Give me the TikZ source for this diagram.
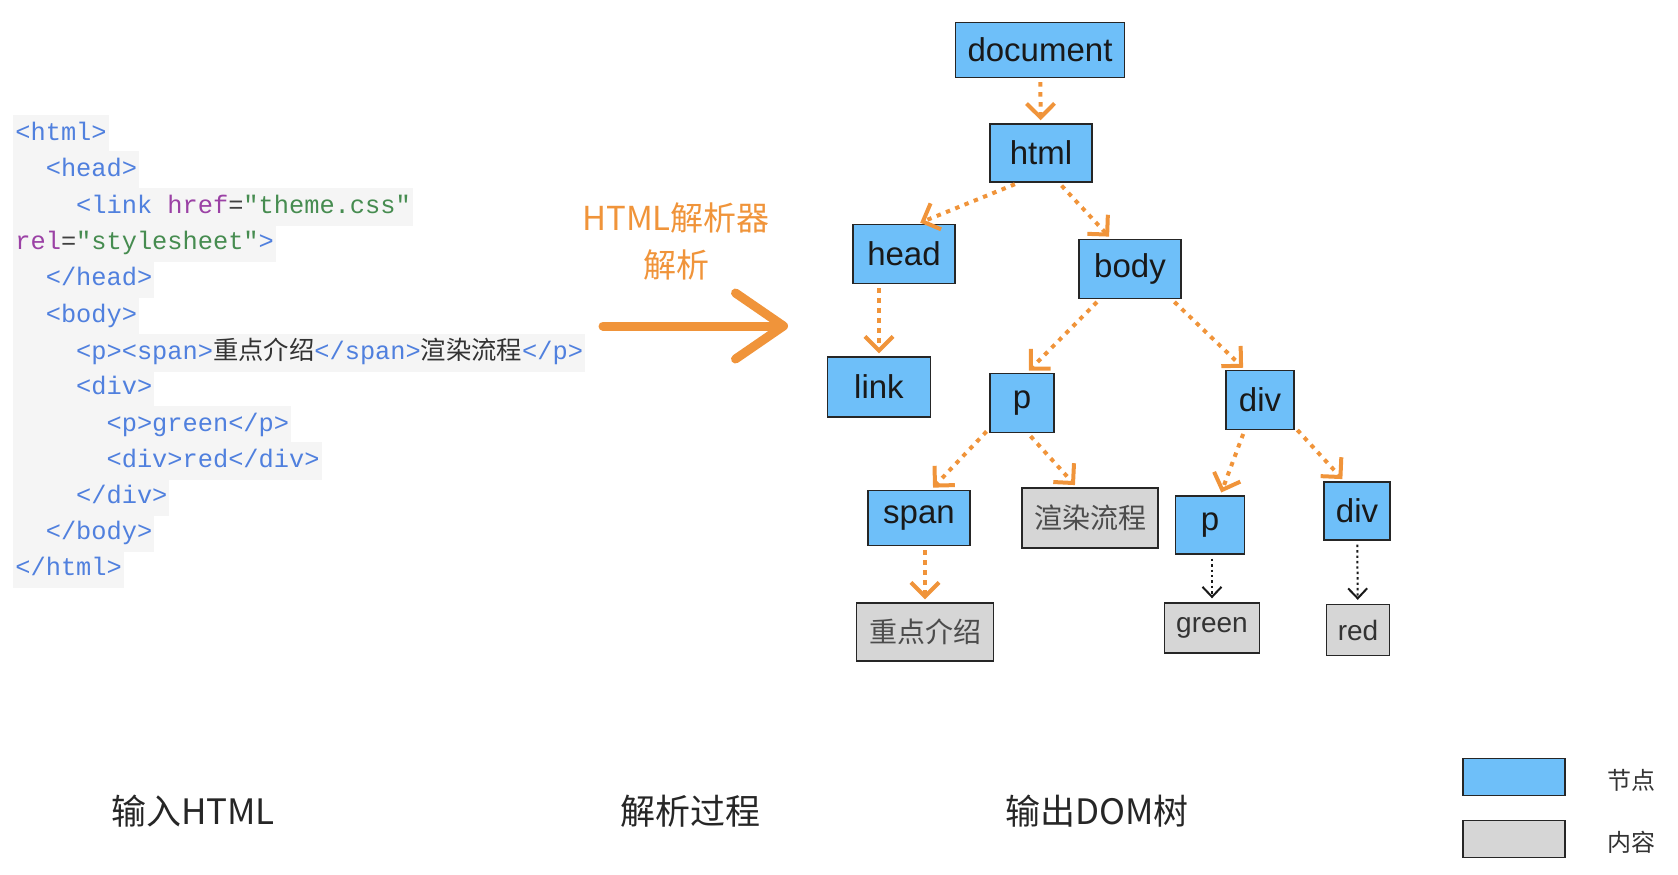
\documentclass[tikz,border=0pt]{standalone}
\usepackage{fontspec}
\newfontfamily\cjk{Noto Sans CJK SC}
\newfontfamily\lab{Liberation Sans}
\newfontfamily\code{Liberation Mono}
\usetikzlibrary{arrows.meta}

\definecolor{nodeblue}{RGB}{110,191,249}
\definecolor{txtgray}{RGB}{214,214,214}
\definecolor{edgeorange}{RGB}{240,148,58}
\definecolor{tagblue}{RGB}{80,128,222}
\definecolor{attrpurple}{RGB}{155,65,165}
\definecolor{valgreen}{RGB}{70,140,80}
\definecolor{codebg}{RGB}{245,245,245}

\newcommand\tg[1]{\textcolor{tagblue}{#1}}
\newcommand\at[1]{\textcolor{attrpurple}{#1}}
\newcommand\vl[1]{\textcolor{valgreen}{#1}}
\newcommand\zh[1]{\textcolor{black!80}{\cjk #1}}

\begin{document}
\begin{tikzpicture}[x=0.5pt, y=-0.5pt,
    elem/.style={draw=black!85, line width=0.7pt, fill=nodeblue, minimum height=29.5pt, inner sep=0pt, font=\lab\fontsize{16.5}{18}\selectfont, text=black!90},
    content/.style={elem, fill=txtgray, font=\lab\fontsize{14}{16}\selectfont, text=black!80},
    zhbox/.style={font=\cjk\fontsize{14}{16}\selectfont, text=black!70},
    codeline/.style={fill=codebg, anchor=west, inner xsep=1pt, inner ysep=0pt, minimum height=18.9pt, text height=8.5pt, text depth=2.5pt, font=\code\fontsize{12.67}{14}\selectfont, text=black!75},
    edge/.style={edgeorange, line width=2pt, dash pattern=on 2.2pt off 2.8pt, shorten <=2pt, shorten >=1.5pt, -{Straight Barb[length=7pt, width=14pt]}},
    leaf/.style={black!90, line width=1pt, dash pattern=on 1.2pt off 1.5pt, shorten <=2pt, shorten >=2pt, -{Straight Barb[length=5pt, width=9.5pt]}},
    chalk/.style={edgeorange, line width=4.5pt, line cap=round, -{Straight Barb[length=24pt, width=33pt, round]}},
    caption/.style={font=\cjk\fontsize{17.5}{20}\selectfont, text=black!85},
    legendlbl/.style={font=\cjk\fontsize{12}{14}\selectfont, text=black!80}
]
    \useasboundingbox (0,0) rectangle (1678,874);

    % html source
    \node[codeline] (l0) at (13,134) {\tg{<html>}};
    \node[codeline] (l1) at (13,170) {\hspace*{1.2em}\tg{<head>}};
    \node[codeline] (l2) at (13,207) {\hspace*{2.4em}\tg{<link} \at{href}=\vl{"theme.css"}};
    \node[codeline] (l3) at (13,243) {\at{rel}=\vl{"stylesheet"}\tg{>}};
    \node[codeline] (l4) at (13,279) {\hspace*{1.2em}\tg{</head>}};
    \node[codeline] (l5) at (13,316) {\hspace*{1.2em}\tg{<body>}};
    \node[codeline] (l6) at (13,353) {\hspace*{2.4em}\tg{<p><span>}\zh{重点介绍}\tg{</span>}\zh{渲染流程}\tg{</p>}};
    \node[codeline] (l7) at (13,388) {\hspace*{2.4em}\tg{<div>}};
    \node[codeline] (l8) at (13,425) {\hspace*{3.6em}\tg{<p>green</p>}};
    \node[codeline] (l9) at (13,461) {\hspace*{3.6em}\tg{<div>red</div>}};
    \node[codeline] (l10) at (13,497) {\hspace*{2.4em}\tg{</div>}};
    \node[codeline] (l11) at (13,533) {\hspace*{1.2em}\tg{</body>}};
    \node[codeline] (l12) at (13,569) {\tg{</html>}};

    % parser
    \node[align=center, font=\cjk\fontsize{16.5}{23.5}\selectfont, text=edgeorange] (parser) at (676,241) {HTML解析器\\解析};
    \coordinate (arrS) at (603,326);
    \coordinate (arrE) at (788,326);
    \draw[chalk] (arrS) -- (arrE);

    % dom tree
    \node[elem, minimum width=84.5pt, minimum height=27.5pt] (document) at (1040,50) {document};
    \node[elem, minimum width=51pt, minimum height=29pt] (html) at (1041,153) {html};
    \node[elem, minimum width=51pt] (head) at (904,254) {head};
    \node[elem, minimum width=51pt] (body) at (1130,269) {body};
    \node[elem, minimum width=51.5pt, minimum height=30pt] (link) at (879,387) {link};
    \node[elem, minimum width=32pt] (p) at (1022,403) {p};
    \node[elem, minimum width=34pt] (div) at (1260,400) {div};
    \node[elem, minimum width=51pt, minimum height=27.5pt] (span) at (919,518) {span};
    \node[content, zhbox, minimum width=68pt, minimum height=30pt] (render) at (1090,518) {渲染流程};
    \node[elem, minimum width=34.5pt, minimum height=29pt] (p2) at (1210,525) {p};
    \node[elem, minimum width=33pt, minimum height=29pt] (div2) at (1357,511) {div};
    \node[content, zhbox, minimum width=68.5pt, minimum height=29pt] (keynote) at (925,632) {重点介绍};
    \node[content, minimum width=47.5pt, minimum height=25pt] (green) at (1212,628) {green};
    \node[content, minimum width=31.5pt, minimum height=25.5pt] (red) at (1358,630) {red};

    \draw[edge] (document) -- (html);
    \draw[edge] (html.233) -- (head.66);
    \draw[edge] (html.301) -- (body.122);
    \draw[edge] (head.south -| link.north) -- (link.north);
    \draw[edge] (body.225) -- (p.81);
    \draw[edge] (body.324) -- (div.116);
    \draw[edge] (p.218) -- (span.67);
    \draw[edge] (p.281) -- (render.113);
    \draw[edge] (div.243) -- (p2.71);
    \draw[edge] (div.322) -- (div2.113);
    \draw[edge] (span.south -| keynote.north) -- (keynote.north);
    \draw[leaf] (p2.south -| green.north) -- (green.north);
    \draw[leaf] (div2) -- (red);

    % captions
    \node[caption] (incap) at (193,811) {输入HTML};
    \node[caption] (parsecap) at (690,811) {解析过程};
    \node[caption] (outcap) at (1097,811) {输出DOM树};

    % legend
    \node[elem, minimum width=51pt, minimum height=18.5pt] (lgelem) at (1514,777) {};
    \node[content, minimum width=51pt, minimum height=18.5pt] (lgtext) at (1514,839) {};
    \node[legendlbl] (lgelemlbl) at (1631,780) {节点};
    \node[legendlbl] (lgtextlbl) at (1631,842) {内容};
\end{tikzpicture}
\end{document}
